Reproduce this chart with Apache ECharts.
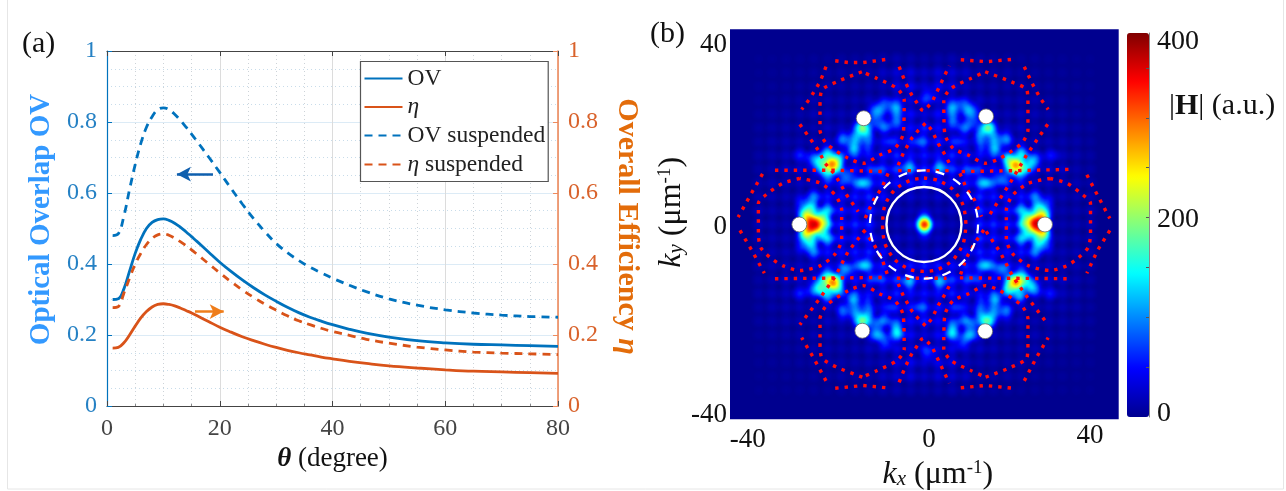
<!DOCTYPE html>
<html>
<head>
<meta charset="utf-8">
<style>html,body{margin:0;padding:0;background:#fff}#c{width:1286px;height:491px}</style>
<script src="https://cdn.jsdelivr.net/npm/echarts@6/dist/echarts.min.js"></script>
</head>
<body>
<div id="c"></div>
<script>
// ---------- panel (a) ----------
const thetaDeg = [1,2,3,4,5,6,7,8,9,10,11,12,13,14,15,16,18,20,22,24,26,28,30,32,34,36,38,40,43,46,50,55,60,65,70,75,80];
const ovSolid = [.30,.302,.33,.38,.43,.47,.50,.517,.525,.527,.523,.515,.504,.491,.477,.463,.434,.405,.379,.355,.333,.313,.295,.278,.263,.25,.239,.229,.216,.205,.194,.184,.178,.174,.172,.17,.168];
const etaSolid = [.163,.165,.178,.2,.225,.248,.266,.279,.286,.288,.286,.282,.276,.269,.262,.254,.238,.222,.208,.195,.184,.174,.165,.157,.15,.144,.138,.133,.126,.12,.113,.107,.102,.098,.096,.094,.092];
const ovSuspended = [.48,.485,.535,.61,.68,.74,.785,.815,.835,.84,.835,.822,.805,.786,.766,.745,.702,.658,.613,.569,.528,.491,.458,.432,.41,.391,.375,.36,.34,.322,.302,.284,.271,.262,.256,.252,.25];
const etaSuspended = [.277,.28,.318,.36,.40,.43,.455,.472,.482,.485,.481,.473,.463,.452,.44,.427,.401,.375,.35,.327,.306,.287,.27,.254,.24,.229,.219,.21,.199,.188,.177,.166,.158,.152,.149,.147,.145];
const seriesNames = ['OV','η','OV suspended','η suspended'];
const arrowLeft = [[18.8,.653],[12.4,.653]];
const arrowRight = [[15.6,.266],[20.7,.266]];

// ---------- panel (b) ----------
const fieldX = [-36,-33,-30,-27,-24,-21,-18,-15,-12,-9,-6,-3,0,3,6,9,12,15,18,21,24,27,30,33,36];
const fieldY = [36,33,30,27,24,21,18,15,12,9,6,3,0,-3,-6,-9,-12,-15,-18,-21,-24,-27,-30,-33,-36];
const fieldRows = [
[5,5,6,6,8,8,10,10,13,16,20,16,14,16,20,16,13,10,10,8,8,6,6,5,5],
[5,6,8,8,11,14,16,16,16,30,40,42,30,42,40,30,16,16,16,14,11,8,8,6,5],
[6,7,8,11,14,20,16,16,20,26,48,56,40,56,48,28,20,16,16,20,14,11,8,7,6],
[6,8,11,14,20,20,16,20,28,36,50,42,62,42,50,40,30,22,16,20,20,14,11,8,6],
[8,11,14,16,22,25,22,25,42,50,56,62,42,62,56,53,45,28,22,25,22,16,14,11,8],
[11,14,16,20,20,30,28,40,50,48,42,64,76,64,42,48,50,40,30,30,20,20,16,14,11],
[11,16,20,22,25,34,48,56,62,50,56,70,62,70,56,50,62,56,48,34,25,22,20,16,11],
[14,20,25,28,48,56,64,67,56,67,76,64,70,64,76,67,56,67,64,56,48,28,25,20,14],
[14,20,30,36,42,53,64,62,73,84,90,81,78,81,90,84,73,62,64,53,42,36,30,20,14],
[16,22,25,28,36,56,67,78,90,73,64,70,76,70,64,73,90,78,67,56,36,28,25,22,16],
[20,22,22,34,62,70,64,70,78,64,34,36,30,36,34,64,78,70,64,70,62,34,22,22,20],
[22,20,20,36,84,98,73,67,84,36,30,26,34,26,30,36,84,67,73,98,84,36,20,20,22],
[22,20,20,42,100,100,73,78,76,30,24,40,60,40,24,30,76,78,73,100,100,42,20,20,22],
[21,20,21,34,81,95,70,67,81,36,30,28,36,28,30,36,81,70,70,95,84,36,20,20,21],
[20,21,22,31,59,67,64,70,76,62,34,36,30,36,34,64,76,70,64,70,59,31,22,22,20],
[16,22,25,28,39,53,67,76,87,73,62,70,73,70,62,73,87,78,67,53,36,28,25,22,16],
[14,20,30,34,42,53,62,62,70,81,87,78,76,78,87,81,70,62,64,53,42,36,30,20,14],
[14,20,25,28,48,53,64,67,56,64,73,64,67,64,73,64,56,67,64,56,48,28,25,20,14],
[11,16,20,22,25,34,45,56,59,50,56,67,62,67,56,50,59,56,48,34,25,22,20,16,11],
[11,14,16,20,20,28,28,40,48,48,42,62,73,62,42,48,50,40,28,30,20,20,16,14,11],
[8,11,14,16,22,22,22,25,39,50,56,59,42,59,56,50,42,28,22,25,22,16,14,11,8],
[6,8,11,14,20,20,16,20,28,36,48,42,59,42,50,36,30,22,16,20,20,14,11,8,6],
[6,7,8,11,14,20,16,16,20,26,45,53,40,53,48,28,20,16,16,20,14,11,8,7,6],
[5,6,8,8,11,14,16,16,16,28,36,42,30,40,36,30,16,16,16,14,11,8,8,6,5],
[5,5,6,6,8,8,10,10,13,16,20,16,14,16,20,16,13,10,10,8,8,6,6,5,5]
];
const hotUpperLeft = [[-13.5,21.1,215],[-14.8,19.1,115],[-12.5,19.5,105],[-10.3,24.9,120],[-10.6,22.5,85],[-6.1,25.3,120],[-6,22.5,90],[-8.5,21.3,80],[-8.3,26,75],[-17.5,18.7,90],[-15.4,16.6,130],[-12.6,16.8,55],[-7.4,18,50],[-20.2,13.2,300],[-22.6,13.7,170],[-21,15.5,130],[-18.9,14,150],[-20.8,10.8,100],[-22,12,120],[-19.4,12.3,150],[-24.5,14,60],[-27,15.1,50],[-16.8,10.4,90],[-13.5,9,120],[-3.4,12.6,95],[-10.5,11.5,50],[-0.8,18,70]];
const hotUpperRight = [[13.8,21.1,205],[15,19.1,105],[12.3,19.5,105],[10,24.9,120],[10.4,22.5,85],[6,25.3,120],[6.2,22.5,90],[8.6,21,75],[8.2,26,75],[17.6,18.7,95],[15.4,16.6,125],[12.6,16.8,55],[7.4,18,50],[20,13.1,290],[18.3,14,170],[23,13.6,130],[21,15.5,130],[20.5,11.1,100],[22,12,120],[19.2,12.2,150],[24.5,14,50],[27.7,15,45],[16.7,10,85],[13.3,9,115],[3.5,12.6,95],[10.5,11.5,50],[1,28,55]];
const hotLowerLeft = [[-13.5,-21.1,205],[-14.8,-19.3,105],[-12.3,-19.5,100],[-10.3,-24,120],[-10.6,-21.8,85],[-5.9,-23.7,125],[-6.2,-22,95],[-8.6,-20.7,75],[-8.3,-25.5,70],[-17.5,-19,85],[-15.5,-16.4,120],[-12.6,-16.8,50],[-7.4,-18,50],[-20,-12.8,290],[-22.6,-13.9,180],[-21,-11,120],[-18.9,-13.9,140],[-21,-15.5,110],[-22,-12.2,120],[-19.3,-12,150],[-24.5,-14,55],[-27,-15,50],[-17,-9.9,100],[-13.2,-8.8,120],[-3.4,-12.6,95],[-10.5,-11.5,50],[-0.8,-18,65]];
const hotLowerRight = [[13.6,-21.1,200],[15,-19.3,105],[12.3,-19.5,100],[10,-24,120],[10.4,-21.8,85],[6,-23.7,120],[6.2,-22,90],[8.6,-20.7,75],[8.2,-25.5,70],[17.6,-19,90],[15.4,-16.4,120],[12.6,-16.8,50],[7.4,-18,50],[20,-12.8,290],[18.3,-13.9,165],[23,-13.6,130],[21,-11,115],[20.5,-15.5,115],[22,-12.2,120],[19.2,-12,150],[24.5,-14,50],[27.4,-15,45],[16.8,-9.9,95],[13.4,-8.8,120],[3.5,-12.6,95],[10.5,-11.5,50],[1,-28,55]];
const hotLeft = [[-23.7,0,375],[-24.8,0.8,300],[-24.8,-0.8,300],[-25.8,2,230],[-25.8,-2,230],[-24.8,3.8,140],[-24.8,-4,140],[-21.8,0.3,150],[-22.5,1.6,170],[-22.5,-1.6,170],[-26.6,4.5,60],[-26.5,-4.5,60],[-24,6,70],[-24,-6,70],[-21,3.2,70],[-21,-3.2,70]];
const hotRight = [[24.1,0.2,375],[25,0.9,300],[25,-0.8,300],[25.8,2,230],[25.8,-2,230],[24.9,3.8,140],[24.9,-4,140],[22,0.3,150],[22.7,1.6,170],[22.7,-1.6,170],[26.6,4.5,60],[26.5,-4.5,60],[24,6,70],[24,-6,70],[21,3.2,70],[21,-3.2,70]];
const hotCentre = [[0,0,370],[0,1.3,80],[0,-1.3,80]];

const ringPaths = [
[[-13.5,33.2],[-19,31],[-22.2,29.2],[-22.6,25.6],[-22.6,20.5],[-21.2,17.6],[-16.5,14.4],[-13.2,13.3],[-9.6,15.1],[-6.3,16.6],[-4.5,19.8],[-4.3,27.1],[-5.9,29.6],[-10.3,31.8],[-13.5,33.2]],
[[13.3,33.2],[19,31],[22.4,29.2],[22.6,25.6],[22.6,20.5],[21.2,17.6],[16.5,14.4],[13.4,13.3],[9.6,15.1],[6.3,16.6],[4.5,19.8],[4.3,27.1],[5.9,29.6],[10.3,31.8],[13.3,33.2]],
[[-13.4,-33.2],[-19,-31],[-22.2,-29],[-22.6,-25.6],[-22.6,-20.5],[-21.2,-17.6],[-16.5,-14.4],[-13.2,-13.3],[-9.6,-15.1],[-6.3,-16.6],[-4.5,-19.8],[-4.3,-27.1],[-5.9,-29.6],[-10.3,-31.8],[-13.4,-33.2]],
[[13.4,-33.2],[19,-31],[22.4,-29],[22.6,-25.6],[22.6,-20.5],[21.2,-17.6],[16.5,-14.4],[13.4,-13.3],[9.6,-15.1],[6.3,-16.6],[4.5,-19.8],[4.3,-27.1],[5.9,-29.6],[10.3,-31.8],[13.4,-33.2]],
[[-27,10],[-30.6,9],[-33.5,7.1],[-36,4.6],[-36,1.7],[-36,-2],[-35.5,-5],[-33.3,-7.3],[-30.6,-9],[-27,-10],[-22.6,-9],[-19.3,-6.4],[-17.9,-3.2],[-17.9,1.2],[-17.9,3.2],[-19.3,6.4],[-22.6,9],[-27,10]],
[[27.4,10],[31,9],[33.7,7.1],[36.2,4.6],[36.2,1.7],[36.2,-2],[35.7,-5],[33.5,-7.3],[31,-9],[27.4,-10],[22.8,-9],[19.3,-6.4],[17.9,-3.2],[17.9,1.2],[17.9,3.2],[19.3,6.4],[22.8,9],[27.4,10]],
[[0,10.1],[3,9.6],[6.3,7.6],[8.5,4.2],[9.1,0],[8.5,-4.2],[6.3,-7.7],[3,-9.8],[0,-10.2],[-3,-9.8],[-6.3,-7.7],[-8.5,-4.2],[-9,0],[-8.5,4.2],[-6.3,7.6],[-3,9.6],[0,10.1]]
];
const starPaths = [
[[-19.3,35.6],[-16.5,35.2],[-13.2,35.2],[-8.1,35.9]],
[[8,35.8],[13.6,35.4],[19.3,35.9]],
[[-19.3,-35.6],[-13.2,-35],[-8.1,-35.5]],
[[8,-35.5],[13.4,-35],[19.3,-35.6]],
[[-21.3,34.3],[-22.6,31],[-24.8,27.4],[-26.6,25]],
[[21.8,34.3],[23.6,30.5],[25.3,27.4],[27,25]],
[[-21.3,-34],[-24,-29],[-26.6,-24.6]],
[[21.8,-34],[24.4,-29],[27,-24.6]],
[[-27,21.8],[-23,16.2],[-21.5,13.3],[-19.3,10.8],[-16.8,6.4],[-14.3,2.8]],
[[-12.8,-1.2],[-16.5,-5.9],[-19.3,-11.3],[-22.6,-16],[-27,-21.8]],
[[26.9,21.8],[22.3,15.1],[18.7,9],[14,1.7]],
[[13.5,-1.5],[16.5,-5.9],[19.3,-11.3],[22.6,-16],[27,-21.8]],
[[-7.8,11.1],[-9.2,7.9],[-11,5.3],[-12.8,1.3]],
[[-13.2,-1.2],[-11,-4.1],[-9.2,-7.3],[-7.8,-11.3]],
[[7.8,11.1],[9.2,7.9],[11,5.3],[12.5,1.7]],
[[13,-1.2],[11,-4.1],[9.2,-7.3],[7.8,-11.3]],
[[-5.4,34.3],[-4.1,31],[-2.7,28.2],[-0.5,24.9],[0,24.7],[1.7,26.5],[3.5,30.3],[5.5,34.5]],
[[-5.6,12.9],[-4.5,15.5],[-2.7,18.7],[-1.2,20.5],[0.4,22.1],[1.7,20.5],[3.1,17.6],[4.6,15.1],[5.9,12.6]],
[[-5.4,-34.3],[-4.1,-31],[-2.7,-28.2],[-0.5,-24.9],[0,-24.7],[1.7,-26.5],[3.5,-30.3],[5.5,-34.5]],
[[-5.6,-12.9],[-4.5,-15.5],[-2.7,-18.7],[-1.2,-20.5],[0.4,-22.1],[1.7,-20.5],[3.1,-17.6],[4.6,-15.1],[5.9,-12.6]],
[[-32.4,11.8],[-20,11.8],[-8.2,11.5]],
[[-5.6,11.7],[5.5,11.7]],
[[8.2,11.5],[20,11.7],[32.3,12]],
[[-32.4,-11.8],[-8.2,-11.5]],
[[-5.9,-11.7],[4.9,-11.7]],
[[7.8,-11.6],[32.3,-11.8]],
[[-35.1,11],[-37.5,6.8],[-40.4,1.6]],
[[-40,-1.3],[-37.5,-5.5],[-34.7,-10.6]],
[[35.4,10.8],[37.5,6.8],[40.4,1.3]],
[[40.4,-1.3],[37.8,-5.5],[35.4,-10.6]]
];
const sourceDots = [[-13.1,23.1],[13.5,23.5],[-13.4,-23.1],[13.3,-23.2],[-27.1,0],[26.3,0]];
const whiteCircles = [[0,0,8.15,0],[0,0,11.75,1]];
const fieldBounds = [-42.17,42.33,-42.35,42.43];
const xTickAnchors = [-38.3,1.1,36.1], xTickLabels = ['{d|-40}','{d|0}','40'];
const yTickAnchors = [39,-0.6,-41.4], yTickLabels = ['40','0','-40'];
const barMax = 385;
const barLabelAnchors = [376,198,3], barLabels = ['400','200','0'];
const barTicks = [50,100,150,200,250,300,350];
const jet = ['#00008f','#0000ff','#0080ff','#00ffff','#80ff80','#ffff00','#ff8000','#ff0000','#800000'];

// ---------- build ----------
const SERIF = '"Liberation Serif","Times New Roman",serif';
const BLUE='#0072bd', ORANGE='#d95319';
function pairs(ys){ return thetaDeg.map((t,i)=>[t,ys[i]]); }
function flat(paths){ const out=[]; paths.forEach((p,i)=>{ if(i) out.push([null,null]); p.forEach(q=>out.push(q)); }); return out; }
const heatData = [];
fieldRows.forEach((row,r)=>row.forEach((v,c)=>heatData.push([fieldX[c],fieldY[r],v])));
[hotUpperLeft,hotUpperRight,hotLowerLeft,hotLowerRight,hotLeft,hotRight,hotCentre].forEach(l=>l.forEach(p=>heatData.push(p)));

const [x0,x1,y0,y1]=fieldBounds;
echarts.registerMap('kspace',{type:'FeatureCollection',features:[{type:'Feature',properties:{name:'field'},
  geometry:{type:'Polygon',coordinates:[[[x0,y0],[x0,y1],[x1,y1],[x1,y0],[x0,y0]]]}}]});

const chart = echarts.init(document.getElementById('c'),null,{renderer:'canvas'});
function curve(name,ys,color,dashed,arrow){
  const s={name,type:'line',data:pairs(ys),xAxisIndex:0,yAxisIndex:0,symbol:'none',showSymbol:false,smooth:0.4,z:4,
    lineStyle:{color,width:2.8,type:dashed?[8,6]:'solid'},itemStyle:{color}};
  if(arrow) s.markLine={silent:true,animation:false,symbol:['none','arrow'],symbolSize:[11,14],label:{show:false},
    lineStyle:{color:arrow.color,width:2.5,type:'solid'},data:[[{coord:arrow.pts[0]},{coord:arrow.pts[1]}]]};
  return s;
}
const redLine={color:'#ff0a0a',width:3.4,type:[3.4,6]};
chart.setOption({
  animation:false,
  backgroundColor:'#fff',
  textStyle:{fontFamily:SERIF},
  grid:[
    {left:107,top:51,width:451,height:355,outerBoundsMode:'none'},
    {left:730,top:29.3,width:388.7,height:390,outerBoundsMode:'none'},
    {left:1127,top:33,width:22,height:384,outerBoundsMode:'none'}
  ],
  geo:{map:'kspace',left:730,top:29.3,right:1286-1118.7,bottom:491-419.3,aspectScale:1,silent:true,roam:false,z:0,
    boundingCoords:[[x0,y1],[x1,y0]],label:{show:false},itemStyle:{areaColor:'#00008f',borderWidth:0}},
  visualMap:{type:'continuous',seriesIndex:4,min:0,max:barMax,left:1127,top:33,itemWidth:22,itemHeight:384,padding:0,
    calculable:false,hoverLink:false,realtime:false,inRange:{color:jet},text:null,showLabel:false,
    borderColor:'#8a8a8a',borderWidth:0,textStyle:{fontSize:1,color:'rgba(0,0,0,0)'}},
  xAxis:[
    {gridIndex:0,type:'value',min:0,max:80,interval:20,name:'{b|θ} (degree)',nameLocation:'middle',nameGap:38,
     nameTextStyle:{fontFamily:SERIF,fontSize:27,color:'#111',rich:{b:{fontFamily:SERIF,fontSize:27,fontWeight:'bold',fontStyle:'italic',color:'#111'}}},
     axisLine:{show:true,onZero:false,lineStyle:{color:'#444',width:1.2}},
     axisTick:{show:true,inside:true,length:5,lineStyle:{color:'#444'}},
     minorTick:{show:true,splitNumber:4,length:2,lineStyle:{color:'#888'}},
     axisLabel:{fontFamily:SERIF,fontSize:24,color:'#444',margin:11},
     splitLine:{show:true,lineStyle:{color:'#dcdcdc',width:1}},
     minorSplitLine:{show:true,lineStyle:{color:'#cdd3d8',width:1,type:[1,3]}}},
    {gridIndex:0,type:'value',position:'top',min:0,max:80,interval:20,
     axisLine:{show:true,onZero:false,lineStyle:{color:'#444',width:1.2}},
     axisTick:{show:true,inside:true,length:5,lineStyle:{color:'#444'}},axisLabel:{show:false},splitLine:{show:false}},
    {gridIndex:1,type:'value',min:x0,max:x1,
     name:'{i|k}{s|x} ({n|μm}{u|-1})',nameLocation:'middle',nameGap:31,
     nameTextStyle:{fontFamily:SERIF,fontSize:32,color:'#111',padding:[0,0,0,27],rich:{
       i:{fontFamily:SERIF,fontSize:32,fontStyle:'italic',color:'#111'},
       n:{fontFamily:SERIF,fontSize:32,color:'#111'},
       s:{fontFamily:SERIF,fontSize:21,fontStyle:'italic',verticalAlign:'bottom',color:'#111'},
       u:{fontFamily:SERIF,fontSize:19,verticalAlign:'top',color:'#111'}}},
     axisLine:{show:false},axisTick:{show:false},splitLine:{show:false},
     axisLabel:{show:true,customValues:xTickAnchors,margin:3,fontFamily:SERIF,fontSize:27,color:'#111',
       rich:{d:{fontFamily:SERIF,fontSize:27,color:'#111',padding:[4,0,0,0]}},
       formatter:v=>xTickLabels[xTickAnchors.indexOf(v)]}},
    {gridIndex:2,type:'value',min:0,max:1,show:false}
  ],
  yAxis:[
    {gridIndex:0,type:'value',min:0,max:1,interval:.2,name:'Optical Overlap OV',nameLocation:'middle',nameGap:51,
     nameTextStyle:{fontFamily:SERIF,fontSize:29,fontWeight:'bold',color:'#3399ff',padding:[0,0,0,18]},
     axisLine:{show:true,onZero:false,lineStyle:{color:BLUE,width:1.2}},
     axisTick:{show:true,inside:true,length:5,lineStyle:{color:BLUE}},
     axisLabel:{fontFamily:SERIF,fontSize:24,color:'#2581c4',margin:10,formatter:v=>String(+v.toFixed(1))},
     splitLine:{show:true,lineStyle:{color:'#dcebf6',width:1.2}},
     minorTick:{show:false,splitNumber:4},
     minorSplitLine:{show:true,lineStyle:{color:'#c8dcea',width:1,type:[1,3]}}},
    {gridIndex:0,type:'value',position:'right',min:0,max:1,interval:.2,name:'Overall Efficiency {e|η}',nameLocation:'middle',nameGap:54,nameRotate:-90,
     nameTextStyle:{fontFamily:SERIF,fontSize:30,fontWeight:'bold',color:'#e36c0a',padding:[0,4,0,0],rich:{e:{fontFamily:SERIF,fontSize:30,fontWeight:'bold',fontStyle:'italic',color:'#e36c0a'}}},
     axisLine:{show:true,onZero:false,lineStyle:{color:'#ee8a5c',width:1.6}},
     axisTick:{show:true,inside:true,length:5,lineStyle:{color:'#ee8a5c'}},
     axisLabel:{fontFamily:SERIF,fontSize:24,color:'#d9622b',margin:10,formatter:v=>String(+v.toFixed(1))},
     splitLine:{show:false}},
    {gridIndex:1,type:'value',min:y0,max:y1,
     name:'{i|k}{s|y} ({n|μm}{u|-1})',nameLocation:'middle',nameGap:24,
     nameTextStyle:{fontFamily:SERIF,fontSize:32,color:'#111',padding:[0,0,0,24],rich:{
       i:{fontFamily:SERIF,fontSize:32,fontStyle:'italic',color:'#111'},
       n:{fontFamily:SERIF,fontSize:32,color:'#111'},
       s:{fontFamily:SERIF,fontSize:21,fontStyle:'italic',verticalAlign:'bottom',color:'#111'},
       u:{fontFamily:SERIF,fontSize:19,verticalAlign:'top',color:'#111'}}},
     axisLine:{show:false},axisTick:{show:false},splitLine:{show:false},
     axisLabel:{show:true,customValues:yTickAnchors,margin:3,fontFamily:SERIF,fontSize:27,color:'#111',
       formatter:v=>yTickLabels[yTickAnchors.indexOf(v)]}},
    {gridIndex:2,type:'value',position:'right',min:0,max:barMax,z:10,
     axisLine:{show:true,onZero:false,lineStyle:{color:'#8a8a8a',width:1}},
     axisTick:{show:true,inside:true,length:3,customValues:barTicks,lineStyle:{color:'#555'}},
     axisLabel:{show:true,customValues:barLabelAnchors,margin:8,fontFamily:SERIF,fontSize:28,color:'#111',
       formatter:v=>barLabels[barLabelAnchors.indexOf(v)]},splitLine:{show:false}}
  ],
  legend:{show:true,orient:'vertical',left:360.5,top:61.5,padding:[5,3,5,3],itemGap:5,itemWidth:38,itemHeight:22,selectedMode:false,
    backgroundColor:'#fff',borderColor:'#555',borderWidth:1.2,z:20,data:seriesNames,
    itemStyle:{opacity:0,color:'rgba(0,0,0,0)',borderWidth:0},
    formatter:n=>n.replace('η','{i|η}'),
    textStyle:{fontFamily:SERIF,fontSize:23.5,lineHeight:22,color:'#222',rich:{i:{fontFamily:SERIF,fontSize:23.5,lineHeight:22,fontStyle:'italic',color:'#222'}}}},
  series:[
    curve(seriesNames[0],ovSolid,BLUE,false),
    curve(seriesNames[1],etaSolid,ORANGE,false,{color:'#ef7d1a',pts:arrowRight}),
    curve(seriesNames[2],ovSuspended,BLUE,true,{color:'#0f5fae',pts:arrowLeft}),
    curve(seriesNames[3],etaSuspended,ORANGE,true),
    {name:'|H|',type:'heatmap',coordinateSystem:'geo',geoIndex:0,data:heatData,pointSize:6,blurSize:6,minOpacity:1,maxOpacity:1,z:2,silent:true},
    {name:'rings',type:'line',xAxisIndex:2,yAxisIndex:2,data:flat(ringPaths),smooth:0.25,symbol:'none',showSymbol:false,connectNulls:false,lineStyle:redLine,z:5,silent:true},
    {name:'edges',type:'line',xAxisIndex:2,yAxisIndex:2,data:flat(starPaths),symbol:'none',showSymbol:false,connectNulls:false,lineStyle:redLine,z:5,silent:true},
    {name:'cuts',type:'custom',xAxisIndex:2,yAxisIndex:2,data:whiteCircles,z:6,silent:true,
     encode:{x:0,y:1},
     renderItem:(p,api)=>{
       const c=api.coord([api.value(0),api.value(1)]);
       const r=api.size([api.value(2),0])[0];
       return {type:'circle',shape:{cx:c[0],cy:c[1],r},style:{fill:'none',stroke:'#fff',lineWidth:api.value(3)?2.2:2.4,lineDash:api.value(3)?[9,10]:null}};
     }},
    {name:'sources',type:'scatter',xAxisIndex:2,yAxisIndex:2,data:sourceDots,symbol:'circle',symbolSize:15,z:7,silent:true,
     itemStyle:{color:'#fff',borderColor:'#666',borderWidth:0.8,opacity:1}}
  ],
  graphic:[
    {type:'rect',z:-1,silent:true,shape:{x:7.5,y:-5,width:1276,height:494},style:{fill:'none',stroke:'#e6e6e6',lineWidth:1}},
    {type:'text',x:22,y:29,silent:true,style:{text:'(a)',fontFamily:SERIF,fontSize:30,fill:'#111'}},
    {type:'text',x:650,y:19,silent:true,style:{text:'(b)',fontFamily:SERIF,fontSize:30,fill:'#111'}},
    {type:'text',x:1169,y:91,silent:true,style:{text:'|{b|H}| (a.u.)',fontFamily:SERIF,fontSize:30,fill:'#111',rich:{b:{fontFamily:SERIF,fontSize:30,fontWeight:'bold',fill:'#111'}}}}
  ]
});
</script>
</body>
</html>
